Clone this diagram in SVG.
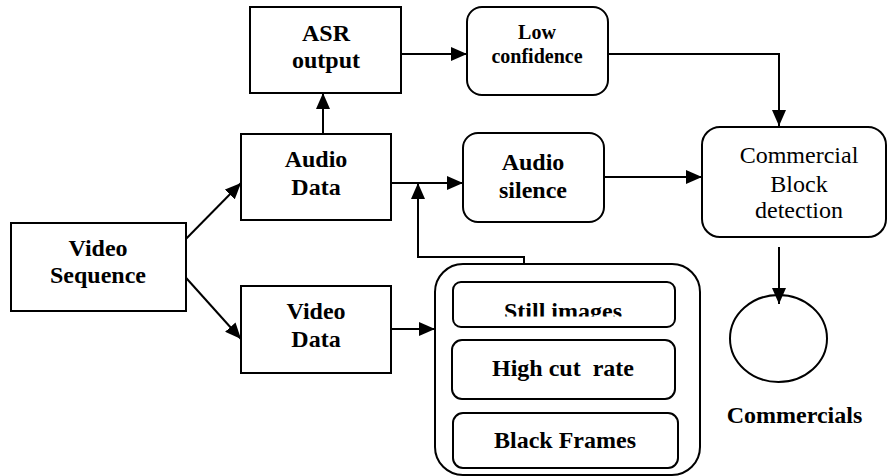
<svg xmlns="http://www.w3.org/2000/svg" width="888" height="476" viewBox="0 0 888 476" font-family="'Liberation Serif', 'Times New Roman', Tinos, 'DejaVu Serif', serif">
<style>
.box{fill:#fff;stroke:#000;stroke-width:2}
.ln{fill:none;stroke:#000;stroke-width:2}
.t{font-family:'Liberation Serif', 'Times New Roman', Tinos, 'DejaVu Serif', serif;font-weight:bold;font-size:24px;text-anchor:middle;fill:#000}
.s{font-size:20px}
.n{font-weight:normal}
</style>
<defs>
<marker id="ah" markerUnits="userSpaceOnUse" markerWidth="16" markerHeight="14" refX="16" refY="7" orient="auto">
<path d="M0,0 L16,7 L0,14 z" fill="#000"/>
</marker>
<clipPath id="stillclip"><rect x="453" y="282" width="222" height="34.5"/></clipPath>
</defs>
<rect width="888" height="476" fill="#fff"/>
<g id="connectors">
<line class="ln" x1="323" y1="134" x2="323" y2="93" marker-end="url(#ah)"/>
<line class="ln" x1="401" y1="54" x2="467" y2="54" marker-end="url(#ah)"/>
<polyline class="ln" points="608,54 779,54 779,126" marker-end="url(#ah)"/>
<line class="ln" x1="391" y1="183" x2="463" y2="183" marker-end="url(#ah)"/>
<line class="ln" x1="604" y1="177" x2="702" y2="177" marker-end="url(#ah)"/>
<line class="ln" x1="179" y1="246" x2="241" y2="183" marker-end="url(#ah)"/>
<line class="ln" x1="179" y1="270" x2="241" y2="339" marker-end="url(#ah)"/>
<line class="ln" x1="391" y1="329" x2="435" y2="329" marker-end="url(#ah)"/>
<polyline class="ln" points="524,272 524,257 418,257 418,183" marker-end="url(#ah)"/>
</g>
<g id="asr">
<rect class="box" x="250" y="7" width="151" height="86"/>
<text class="t" x="326" y="41">ASR</text>
<text class="t" x="326" y="68">output</text>
</g>
<g id="lowconf">
<rect class="box" x="467" y="7" width="141" height="88" rx="15"/>
<text class="t s" x="537" y="39">Low</text>
<text class="t s" x="537" y="63">confidence</text>
</g>
<g id="audiodata">
<rect class="box" x="241" y="134" width="150" height="86"/>
<text class="t" x="316" y="167">Audio</text>
<text class="t" x="316" y="195">Data</text>
</g>
<g id="audiosilence">
<rect class="box" x="463" y="133" width="141" height="89" rx="15"/>
<text class="t" x="533" y="170">Audio</text>
<text class="t" x="533" y="198">silence</text>
</g>
<g id="commercialblock">
<rect class="box" x="702" y="127" width="184" height="110" rx="18"/>
<text class="t n" x="799" y="163">Commercial</text>
<text class="t n" x="799" y="192">Block</text>
<text class="t n" x="799" y="218">detection</text>
</g>
<g id="videosequence">
<rect class="box" x="11" y="223" width="175" height="88"/>
<text class="t" x="98" y="256">Video</text>
<text class="t" x="98" y="283">Sequence</text>
</g>
<g id="videodata">
<rect class="box" x="241" y="286" width="150" height="87"/>
<text class="t" x="316" y="319">Video</text>
<text class="t" x="316" y="347">Data</text>
</g>
<g id="features">
<rect class="box" x="435" y="264" width="265" height="211" rx="28"/>
<g id="stillimages">
<rect class="box" x="453" y="282" width="222" height="45" rx="8"/>
<text class="t" x="563" y="319" clip-path="url(#stillclip)">Still images</text>
</g>
<g id="highcutrate">
<rect class="box" x="452" y="340" width="223" height="59" rx="10"/>
<text class="t" x="563" y="376" xml:space="preserve" style="white-space:pre">High cut  rate</text>
</g>
<g id="blackframes">
<rect class="box" x="453" y="413" width="225" height="55" rx="10"/>
<text class="t" x="565" y="448">Black Frames</text>
</g>
</g>
<g id="commercials">
<ellipse class="box" cx="778.5" cy="338.5" rx="48.5" ry="43.5"/>
<text class="t" x="794.5" y="423">Commercials</text>
</g>
<g id="connectors-top">
<line class="ln" x1="779" y1="247" x2="779" y2="304" marker-end="url(#ah)"/>
</g>
</svg>
